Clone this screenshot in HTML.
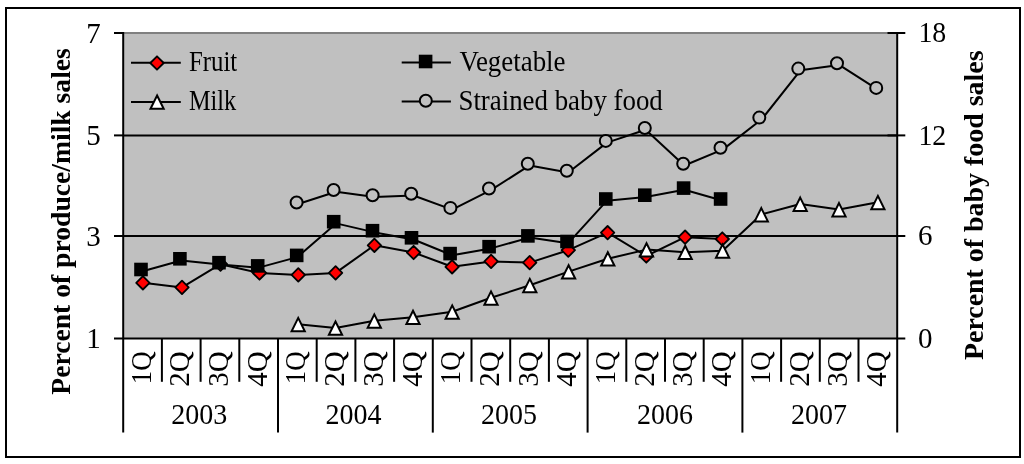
<!DOCTYPE html>
<html><head><meta charset="utf-8"><style>
html,body{margin:0;padding:0;background:#fff;width:1024px;height:464px;overflow:hidden}
svg{display:block;font-family:"Liberation Serif",serif}
</style></head><body><svg width="1024" height="464" viewBox="0 0 1024 464"><rect x="0" y="0" width="1024" height="464" fill="#fff"/><rect x="123.2" y="33" width="774" height="305.5" fill="#c0c0c0"/><line x1="123.2" y1="33" x2="897.2" y2="33" stroke="#808080" stroke-width="2"/><line x1="123.2" y1="135.4" x2="897.2" y2="135.4" stroke="#000" stroke-width="2"/><line x1="123.2" y1="236" x2="897.2" y2="236" stroke="#000" stroke-width="2"/><line x1="123.2" y1="32" x2="123.2" y2="432.6" stroke="#000" stroke-width="2"/><line x1="897.2" y1="32" x2="897.2" y2="432.6" stroke="#000" stroke-width="2"/><line x1="114" y1="338.5" x2="905.3" y2="338.5" stroke="#000" stroke-width="2"/><line x1="114" y1="33" x2="123.2" y2="33" stroke="#000" stroke-width="2"/><line x1="114" y1="135.4" x2="123.2" y2="135.4" stroke="#000" stroke-width="2"/><line x1="114" y1="236" x2="123.2" y2="236" stroke="#000" stroke-width="2"/><line x1="887.5" y1="33" x2="905.3" y2="33" stroke="#000" stroke-width="2"/><line x1="887.5" y1="135.4" x2="905.3" y2="135.4" stroke="#000" stroke-width="2"/><line x1="887.5" y1="236" x2="905.3" y2="236" stroke="#000" stroke-width="2"/><line x1="161.9" y1="338.5" x2="161.9" y2="381.8" stroke="#000" stroke-width="2"/><line x1="200.6" y1="338.5" x2="200.6" y2="381.8" stroke="#000" stroke-width="2"/><line x1="239.3" y1="338.5" x2="239.3" y2="381.8" stroke="#000" stroke-width="2"/><line x1="278" y1="338.5" x2="278" y2="432.6" stroke="#000" stroke-width="2"/><line x1="316.7" y1="338.5" x2="316.7" y2="381.8" stroke="#000" stroke-width="2"/><line x1="355.4" y1="338.5" x2="355.4" y2="381.8" stroke="#000" stroke-width="2"/><line x1="394.1" y1="338.5" x2="394.1" y2="381.8" stroke="#000" stroke-width="2"/><line x1="432.8" y1="338.5" x2="432.8" y2="432.6" stroke="#000" stroke-width="2"/><line x1="471.5" y1="338.5" x2="471.5" y2="381.8" stroke="#000" stroke-width="2"/><line x1="510.2" y1="338.5" x2="510.2" y2="381.8" stroke="#000" stroke-width="2"/><line x1="548.9" y1="338.5" x2="548.9" y2="381.8" stroke="#000" stroke-width="2"/><line x1="587.6" y1="338.5" x2="587.6" y2="432.6" stroke="#000" stroke-width="2"/><line x1="626.3" y1="338.5" x2="626.3" y2="381.8" stroke="#000" stroke-width="2"/><line x1="665" y1="338.5" x2="665" y2="381.8" stroke="#000" stroke-width="2"/><line x1="703.7" y1="338.5" x2="703.7" y2="381.8" stroke="#000" stroke-width="2"/><line x1="742.4" y1="338.5" x2="742.4" y2="432.6" stroke="#000" stroke-width="2"/><line x1="781.1" y1="338.5" x2="781.1" y2="381.8" stroke="#000" stroke-width="2"/><line x1="819.8" y1="338.5" x2="819.8" y2="381.8" stroke="#000" stroke-width="2"/><line x1="858.5" y1="338.5" x2="858.5" y2="381.8" stroke="#000" stroke-width="2"/><polyline points="142.9,282.8 182,287.4 220.5,264.2 259.5,273 298.3,274.9 335.6,272.9 374.4,245.3 413.6,252.5 452.1,266.8 491.1,261.4 529.7,262.6 568.3,250.2 607.6,232.7 646.3,256 685.1,237.2 722.3,239" fill="none" stroke="#000" stroke-width="2.0" stroke-linejoin="round"/><path d="M142.9 276.1L149.6 282.8L142.9 289.5L136.2 282.8Z" fill="#ff0000" stroke="#000" stroke-width="1.8" stroke-linejoin="round"/><path d="M182 280.7L188.7 287.4L182 294.1L175.3 287.4Z" fill="#ff0000" stroke="#000" stroke-width="1.8" stroke-linejoin="round"/><path d="M220.5 257.5L227.2 264.2L220.5 270.9L213.8 264.2Z" fill="#ff0000" stroke="#000" stroke-width="1.8" stroke-linejoin="round"/><path d="M259.5 266.3L266.2 273L259.5 279.7L252.8 273Z" fill="#ff0000" stroke="#000" stroke-width="1.8" stroke-linejoin="round"/><path d="M298.3 268.2L305 274.9L298.3 281.6L291.6 274.9Z" fill="#ff0000" stroke="#000" stroke-width="1.8" stroke-linejoin="round"/><path d="M335.6 266.2L342.3 272.9L335.6 279.6L328.9 272.9Z" fill="#ff0000" stroke="#000" stroke-width="1.8" stroke-linejoin="round"/><path d="M374.4 238.6L381.1 245.3L374.4 252L367.7 245.3Z" fill="#ff0000" stroke="#000" stroke-width="1.8" stroke-linejoin="round"/><path d="M413.6 245.8L420.3 252.5L413.6 259.2L406.9 252.5Z" fill="#ff0000" stroke="#000" stroke-width="1.8" stroke-linejoin="round"/><path d="M452.1 260.1L458.8 266.8L452.1 273.5L445.4 266.8Z" fill="#ff0000" stroke="#000" stroke-width="1.8" stroke-linejoin="round"/><path d="M491.1 254.7L497.8 261.4L491.1 268.1L484.4 261.4Z" fill="#ff0000" stroke="#000" stroke-width="1.8" stroke-linejoin="round"/><path d="M529.7 255.9L536.4 262.6L529.7 269.3L523 262.6Z" fill="#ff0000" stroke="#000" stroke-width="1.8" stroke-linejoin="round"/><path d="M568.3 243.5L575 250.2L568.3 256.9L561.6 250.2Z" fill="#ff0000" stroke="#000" stroke-width="1.8" stroke-linejoin="round"/><path d="M607.6 226L614.3 232.7L607.6 239.4L600.9 232.7Z" fill="#ff0000" stroke="#000" stroke-width="1.8" stroke-linejoin="round"/><path d="M646.3 249.3L653 256L646.3 262.7L639.6 256Z" fill="#ff0000" stroke="#000" stroke-width="1.8" stroke-linejoin="round"/><path d="M685.1 230.5L691.8 237.2L685.1 243.9L678.4 237.2Z" fill="#ff0000" stroke="#000" stroke-width="1.8" stroke-linejoin="round"/><path d="M722.3 232.3L729 239L722.3 245.7L715.6 239Z" fill="#ff0000" stroke="#000" stroke-width="1.8" stroke-linejoin="round"/><polyline points="142.55,271.2 181.25,260.5 219.95,264.4 258.65,267.6 297.35,257.1 336.05,223.4 374.75,232.4 413.45,239.5 452.15,255.3 490.85,248.4 529.55,237.6 568.25,243.2 606.95,200.7 645.65,196.9 684.35,189.8 723.05,200.7" fill="none" stroke="#000" stroke-width="2.0" stroke-linejoin="round"/><rect x="134.2" y="262.7" width="13.6" height="13.6" fill="#000"/><rect x="173.1" y="252" width="13.6" height="13.6" fill="#000"/><rect x="212.2" y="255.9" width="13.6" height="13.6" fill="#000"/><rect x="250.9" y="259.1" width="13.6" height="13.6" fill="#000"/><rect x="289.9" y="248.6" width="13.6" height="13.6" fill="#000"/><rect x="326.9" y="214.9" width="13.6" height="13.6" fill="#000"/><rect x="365.7" y="223.9" width="13.6" height="13.6" fill="#000"/><rect x="404.7" y="231" width="13.6" height="13.6" fill="#000"/><rect x="443.3" y="246.8" width="13.6" height="13.6" fill="#000"/><rect x="482.3" y="239.9" width="13.6" height="13.6" fill="#000"/><rect x="521.1" y="229.1" width="13.6" height="13.6" fill="#000"/><rect x="560.2" y="234.7" width="13.6" height="13.6" fill="#000"/><rect x="599" y="192.2" width="13.6" height="13.6" fill="#000"/><rect x="638" y="188.4" width="13.6" height="13.6" fill="#000"/><rect x="676.8" y="181.3" width="13.6" height="13.6" fill="#000"/><rect x="713.8" y="192.2" width="13.6" height="13.6" fill="#000"/><polyline points="298.2,324.3 335.5,327.9 374.3,320.8 413,317.2 452.2,311.8 491,297.8 529.8,285.3 568.6,271.6 607.8,258.7 646.5,249.6 685.2,252.2 722.6,250.8 761.3,214.5 800.2,204 839,209.5 877.9,202.3" fill="none" stroke="#000" stroke-width="2.0" stroke-linejoin="round"/><path d="M298.2 317.9L304.8 331.2L291.6 331.2Z" fill="#fff" stroke="#000" stroke-width="2" stroke-linejoin="miter" stroke-miterlimit="3"/><path d="M335.5 321.5L342.1 334.8L328.9 334.8Z" fill="#fff" stroke="#000" stroke-width="2" stroke-linejoin="miter" stroke-miterlimit="3"/><path d="M374.3 314.4L380.9 327.7L367.7 327.7Z" fill="#fff" stroke="#000" stroke-width="2" stroke-linejoin="miter" stroke-miterlimit="3"/><path d="M413 310.8L419.6 324.1L406.4 324.1Z" fill="#fff" stroke="#000" stroke-width="2" stroke-linejoin="miter" stroke-miterlimit="3"/><path d="M452.2 305.4L458.8 318.7L445.6 318.7Z" fill="#fff" stroke="#000" stroke-width="2" stroke-linejoin="miter" stroke-miterlimit="3"/><path d="M491 291.4L497.6 304.7L484.4 304.7Z" fill="#fff" stroke="#000" stroke-width="2" stroke-linejoin="miter" stroke-miterlimit="3"/><path d="M529.8 278.9L536.4 292.2L523.2 292.2Z" fill="#fff" stroke="#000" stroke-width="2" stroke-linejoin="miter" stroke-miterlimit="3"/><path d="M568.6 265.2L575.2 278.5L562 278.5Z" fill="#fff" stroke="#000" stroke-width="2" stroke-linejoin="miter" stroke-miterlimit="3"/><path d="M607.8 252.3L614.4 265.6L601.2 265.6Z" fill="#fff" stroke="#000" stroke-width="2" stroke-linejoin="miter" stroke-miterlimit="3"/><path d="M646.5 243.2L653.1 256.5L639.9 256.5Z" fill="#fff" stroke="#000" stroke-width="2" stroke-linejoin="miter" stroke-miterlimit="3"/><path d="M685.2 245.8L691.8 259.1L678.6 259.1Z" fill="#fff" stroke="#000" stroke-width="2" stroke-linejoin="miter" stroke-miterlimit="3"/><path d="M722.6 244.4L729.2 257.7L716 257.7Z" fill="#fff" stroke="#000" stroke-width="2" stroke-linejoin="miter" stroke-miterlimit="3"/><path d="M761.3 208.1L767.9 221.4L754.7 221.4Z" fill="#fff" stroke="#000" stroke-width="2" stroke-linejoin="miter" stroke-miterlimit="3"/><path d="M800.2 197.6L806.8 210.9L793.6 210.9Z" fill="#fff" stroke="#000" stroke-width="2" stroke-linejoin="miter" stroke-miterlimit="3"/><path d="M839 203.1L845.6 216.4L832.4 216.4Z" fill="#fff" stroke="#000" stroke-width="2" stroke-linejoin="miter" stroke-miterlimit="3"/><path d="M877.9 195.9L884.5 209.2L871.3 209.2Z" fill="#fff" stroke="#000" stroke-width="2" stroke-linejoin="miter" stroke-miterlimit="3"/><polyline points="297.35,204.2 336.05,191.7 374.75,197 413.45,195.5 452.15,209.6 490.85,190.2 529.55,165.4 568.25,172.5 606.95,142.6 645.65,129.7 684.35,165.5 723.05,149.4 761.75,119.3 800.45,70.3 839.15,64.9 877.85,89.6" fill="none" stroke="#000" stroke-width="2.0" stroke-linejoin="round"/><circle cx="296.6" cy="202.5" r="6" fill="#c0c0c0" stroke="#000" stroke-width="2"/><circle cx="333.6" cy="190" r="6" fill="#c0c0c0" stroke="#000" stroke-width="2"/><circle cx="372.6" cy="195.3" r="6" fill="#c0c0c0" stroke="#000" stroke-width="2"/><circle cx="411.2" cy="193.8" r="6" fill="#c0c0c0" stroke="#000" stroke-width="2"/><circle cx="450.4" cy="207.9" r="6" fill="#c0c0c0" stroke="#000" stroke-width="2"/><circle cx="489" cy="188.5" r="6" fill="#c0c0c0" stroke="#000" stroke-width="2"/><circle cx="527.8" cy="163.7" r="6" fill="#c0c0c0" stroke="#000" stroke-width="2"/><circle cx="566.8" cy="170.8" r="6" fill="#c0c0c0" stroke="#000" stroke-width="2"/><circle cx="605.8" cy="140.9" r="6" fill="#c0c0c0" stroke="#000" stroke-width="2"/><circle cx="644.8" cy="128" r="6" fill="#c0c0c0" stroke="#000" stroke-width="2"/><circle cx="683.2" cy="163.8" r="6" fill="#c0c0c0" stroke="#000" stroke-width="2"/><circle cx="720.5" cy="147.7" r="6" fill="#c0c0c0" stroke="#000" stroke-width="2"/><circle cx="759.3" cy="117.6" r="6" fill="#c0c0c0" stroke="#000" stroke-width="2"/><circle cx="798.3" cy="68.6" r="6" fill="#c0c0c0" stroke="#000" stroke-width="2"/><circle cx="837" cy="63.2" r="6" fill="#c0c0c0" stroke="#000" stroke-width="2"/><circle cx="876.2" cy="87.9" r="6" fill="#c0c0c0" stroke="#000" stroke-width="2"/><line x1="131" y1="62.8" x2="180.8" y2="62.8" stroke="#000" stroke-width="2"/><path d="M157 56.3L163.7 63L157 69.7L150.3 63Z" fill="#ff0000" stroke="#000" stroke-width="1.8" stroke-linejoin="round"/><line x1="131" y1="101.9" x2="180.8" y2="101.9" stroke="#000" stroke-width="2"/><path d="M157.1 95.5L163.7 108.8L150.5 108.8Z" fill="#fff" stroke="#000" stroke-width="2" stroke-linejoin="miter" stroke-miterlimit="3"/><line x1="401.7" y1="62.6" x2="450.9" y2="62.6" stroke="#000" stroke-width="2"/><rect x="418.8" y="54.7" width="13.6" height="13.6" fill="#000"/><line x1="401.7" y1="101.6" x2="450.9" y2="101.6" stroke="#000" stroke-width="2"/><circle cx="425.8" cy="100.8" r="6" fill="#c0c0c0" stroke="#000" stroke-width="2"/><defs><filter id="gs" x="0" y="0" width="1024" height="464" filterUnits="userSpaceOnUse"><feColorMatrix type="saturate" values="0"/></filter></defs><g font-family="'Liberation Serif', serif" fill="#000" filter="url(#gs)"><text transform="translate(188.96 71) scale(0.8562 1)" font-size="29">Fruit</text><text transform="translate(188.97 109.9) scale(0.8373 1)" font-size="29">Milk</text><text transform="translate(459.43 71) scale(0.9284 1)" font-size="29">Vegetable</text><text transform="translate(458.45 109.8) scale(0.9263 1)" font-size="29">Strained baby food</text><text x="100.7" y="42.5" font-size="29" text-anchor="end">7</text><text x="100.7" y="144.9" font-size="29" text-anchor="end">5</text><text x="100.7" y="245.5" font-size="29" text-anchor="end">3</text><text x="100.7" y="348" font-size="29" text-anchor="end">1</text><text x="918.4" y="42.3" font-size="29" transform="translate(918.4 0) scale(0.96 1) translate(-918.4 0)">18</text><text x="918.4" y="144.7" font-size="29" transform="translate(918.4 0) scale(0.96 1) translate(-918.4 0)">12</text><text x="918" y="245.3" font-size="29">6</text><text x="918" y="347.8" font-size="29">0</text><text transform="translate(150.65 351.2) rotate(-90) scale(0.93 1)" font-size="29" text-anchor="end">1Q</text><text transform="translate(189.35 351.2) rotate(-90) scale(1.0 1)" font-size="29" text-anchor="end">2Q</text><text transform="translate(228.05 351.2) rotate(-90) scale(1.0 1)" font-size="29" text-anchor="end">3Q</text><text transform="translate(266.75 351.2) rotate(-90) scale(1.0 1)" font-size="29" text-anchor="end">4Q</text><text transform="translate(305.45 351.2) rotate(-90) scale(0.93 1)" font-size="29" text-anchor="end">1Q</text><text transform="translate(344.15 351.2) rotate(-90) scale(1.0 1)" font-size="29" text-anchor="end">2Q</text><text transform="translate(382.85 351.2) rotate(-90) scale(1.0 1)" font-size="29" text-anchor="end">3Q</text><text transform="translate(421.55 351.2) rotate(-90) scale(1.0 1)" font-size="29" text-anchor="end">4Q</text><text transform="translate(460.25 351.2) rotate(-90) scale(0.93 1)" font-size="29" text-anchor="end">1Q</text><text transform="translate(498.95 351.2) rotate(-90) scale(1.0 1)" font-size="29" text-anchor="end">2Q</text><text transform="translate(537.65 351.2) rotate(-90) scale(1.0 1)" font-size="29" text-anchor="end">3Q</text><text transform="translate(576.35 351.2) rotate(-90) scale(1.0 1)" font-size="29" text-anchor="end">4Q</text><text transform="translate(615.05 351.2) rotate(-90) scale(0.93 1)" font-size="29" text-anchor="end">1Q</text><text transform="translate(653.75 351.2) rotate(-90) scale(1.0 1)" font-size="29" text-anchor="end">2Q</text><text transform="translate(692.45 351.2) rotate(-90) scale(1.0 1)" font-size="29" text-anchor="end">3Q</text><text transform="translate(731.15 351.2) rotate(-90) scale(1.0 1)" font-size="29" text-anchor="end">4Q</text><text transform="translate(769.85 351.2) rotate(-90) scale(0.93 1)" font-size="29" text-anchor="end">1Q</text><text transform="translate(808.55 351.2) rotate(-90) scale(1.0 1)" font-size="29" text-anchor="end">2Q</text><text transform="translate(847.25 351.2) rotate(-90) scale(1.0 1)" font-size="29" text-anchor="end">3Q</text><text transform="translate(885.95 351.2) rotate(-90) scale(1.0 1)" font-size="29" text-anchor="end">4Q</text><text x="199.2" y="424.2" font-size="29" text-anchor="middle" transform="translate(199.2 0) scale(0.965 1) translate(-199.2 0)">2003</text><text x="353.6" y="424.2" font-size="29" text-anchor="middle" transform="translate(353.6 0) scale(0.965 1) translate(-353.6 0)">2004</text><text x="509" y="424.2" font-size="29" text-anchor="middle" transform="translate(509 0) scale(0.965 1) translate(-509 0)">2005</text><text x="665" y="424.2" font-size="29" text-anchor="middle" transform="translate(665 0) scale(0.965 1) translate(-665 0)">2006</text><text x="819" y="424.2" font-size="29" text-anchor="middle" transform="translate(819 0) scale(0.965 1) translate(-819 0)">2007</text><text transform="translate(70 394.71) rotate(-90) scale(1.0505 1)" font-size="26.3" font-weight="bold">Percent of produce/milk sales</text><text transform="translate(983 360.02) rotate(-90) scale(1.0614 1)" font-size="26.3" font-weight="bold">Percent of baby food sales</text></g><rect x="6" y="8" width="1014" height="449" fill="none" stroke="#000" stroke-width="2"/></svg></body></html>
